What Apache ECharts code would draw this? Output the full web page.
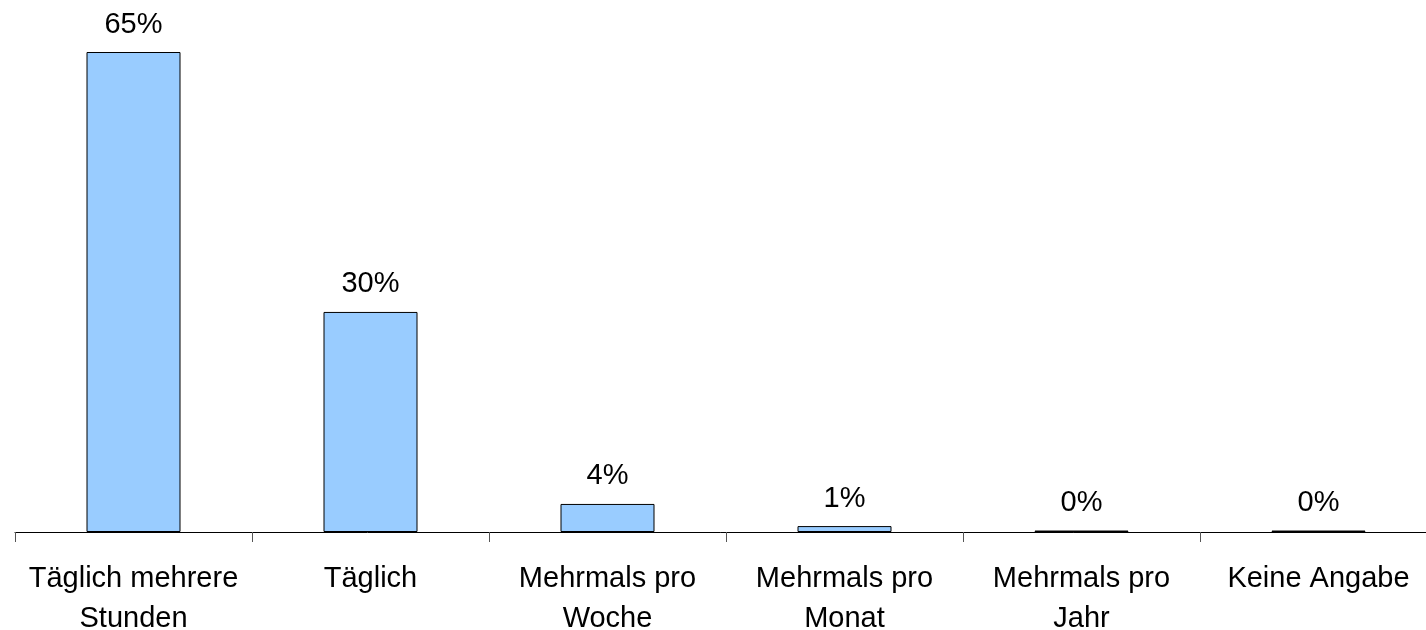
<!DOCTYPE html>
<html>
<head>
<meta charset="utf-8">
<script src="https://cdn.jsdelivr.net/npm/echarts@6/dist/echarts.min.js"></script>
<style>
html,body{margin:0;padding:0;background:#fff;}
#chart{width:1426px;height:630px;}
</style>
</head>
<body>
<div id="chart"></div>
<script>
const categories = ['Täglich mehrere\nStunden', 'Täglich', 'Mehrmals pro\nWoche', 'Mehrmals pro\nMonat', 'Mehrmals pro\nJahr', 'Keine Angabe'];
const values = [65, 29.8, 3.8, 0.8, 0.2, 0.2];

const chart = echarts.init(document.getElementById('chart'), null, {renderer: 'canvas'});
const FONT = "'Liberation Sans', Arial, sans-serif";
chart.setOption({
  animation: false,
  backgroundColor: '#ffffff',
  grid: {left: 15, right: -11, top: 52, bottom: 98, containLabel: false, outerBoundsMode: 'none'},
  xAxis: {
    type: 'category',
    data: categories,
    boundaryGap: true,
    axisLine: {show: true, lineStyle: {color: '#000', width: 1}},
    axisTick: {show: true, length: 10, alignWithLabel: false, lineStyle: {color: '#555', width: 1}},
    axisLabel: {interval: 0, margin: 27, color: '#000', fontFamily: FONT, fontSize: 29, lineHeight: 40, align: 'center'}
  },
  yAxis: {
    type: 'value',
    min: 0,
    max: 65,
    show: false,
    splitLine: {show: false}
  },
  series: [{
    type: 'bar',
    data: values,
    barWidth: 94,
    itemStyle: {color: '#99CCFF', borderColor: '#000', borderWidth: 1},
    label: {
      show: true,
      position: 'top',
      distance: 13,
      color: '#000',
      fontFamily: FONT,
      fontSize: 29,
      formatter: p => Math.round(p.value) + '%'
    }
  }]
});
</script>
</body>
</html>
